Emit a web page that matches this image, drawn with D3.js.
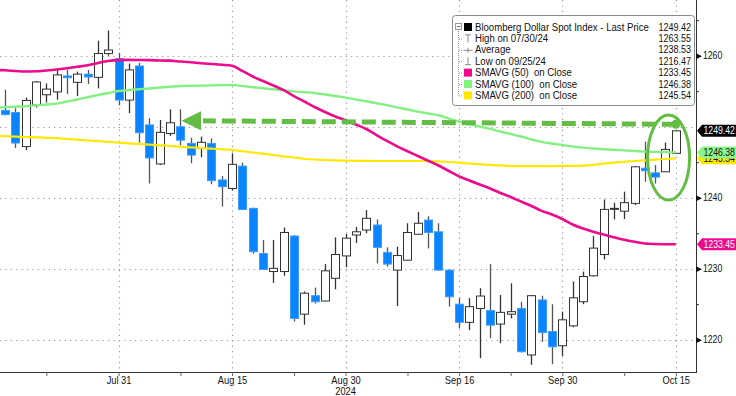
<!DOCTYPE html>
<html><head><meta charset="utf-8">
<script src="https://cdn.jsdelivr.net/npm/d3@7"></script>
<style>
body{margin:0;background:#fff}
svg{display:block}
text{font-family:"Liberation Sans",Arial,sans-serif}
</style>
</head><body>
<svg id="chart" width="736" height="396"></svg>
<script>
// ---------------- data ----------------
const dates = ["2024-07-15","2024-07-16","2024-07-17","2024-07-18","2024-07-19","2024-07-22","2024-07-23","2024-07-24","2024-07-25","2024-07-26","2024-07-29","2024-07-30","2024-07-31",
"2024-08-01","2024-08-02","2024-08-05","2024-08-06","2024-08-07","2024-08-08","2024-08-09","2024-08-12","2024-08-13","2024-08-14","2024-08-15","2024-08-16","2024-08-19","2024-08-20","2024-08-21","2024-08-22","2024-08-23","2024-08-26","2024-08-27","2024-08-28","2024-08-29","2024-08-30",
"2024-09-02","2024-09-03","2024-09-04","2024-09-05","2024-09-06","2024-09-09","2024-09-10","2024-09-11","2024-09-12","2024-09-13","2024-09-16","2024-09-17","2024-09-18","2024-09-19","2024-09-20","2024-09-23","2024-09-24","2024-09-25","2024-09-26","2024-09-27","2024-09-30",
"2024-10-01","2024-10-02","2024-10-03","2024-10-04","2024-10-07","2024-10-08","2024-10-09","2024-10-10","2024-10-11","2024-10-14","2024-10-15"];

const openP  = [null,1252.3,1252.0,1247.2,1253.05,1254.5,1254.9,1257.15,1256.25,1257.4,1256.95,1260.3,1259.6,
1253.75,1258.55,1250.25,1244.75,1249.05,1250.0,1247.65,1246.95,1247.65,1242.5,1241.3,1244.45,1238.5,1232.15,1229.6,1229.6,1234.6,1223.6,1226.2,1225.45,1228.65,1231.8,
1234.75,1235.45,1236.15,1232.3,1229.8,1231.2,1234.85,1236.85,1235.2,1229.8,1225.0,1222.45,1224.4,1224.1,1222.2,1223.6,1224.4,1217.85,1225.6,1221.15,1219.15,
1221.95,1225.35,1229.0,1232.0,1238.45,1238.1,1239.2,1244.15,1243.5,1243.65,1246.25];
const highP  = [null,1255.2,1252.6,1254.1,1256.4,1256.1,1258.0,1258.0,1257.75,1258.0,1262.1,1263.55,1260.4,
1258.9,1259.0,1251.2,1250.95,1252.45,1252.45,1248.45,1248.6,1248.35,1243.05,1246.25,1244.95,1238.6,1234.05,1234.05,1235.8,1234.75,1226.8,1227.35,1230.65,1234.4,1234.9,
1235.9,1238.25,1236.95,1233.0,1233.1,1236.4,1238.0,1237.4,1236.4,1229.9,1225.85,1225.85,1227.25,1230.65,1226.3,1227.95,1225.35,1226.3,1226.2,1225.0,1223.95,
1228.2,1229.6,1234.6,1239.75,1239.3,1240.85,1244.45,1247.9,1244.6,1247.75,1249.5];
const lowP   = [null,1251.6,1247.0,1246.7,1252.7,1253.4,1253.8,1254.6,1254.3,1256.0,1255.4,1260.0,1253.0,
1251.9,1247.75,1242.0,1244.6,1248.7,1247.4,1244.85,1245.7,1241.9,1238.75,1241.0,1238.3,1232.1,1229.85,1228.0,1229.0,1222.55,1222.1,1225.1,1225.4,1227.1,1230.2,
1233.6,1235.0,1230.75,1230.3,1224.75,1231.15,1234.8,1232.85,1229.7,1224.65,1221.6,1221.35,1217.4,1220.2,1219.5,1223.0,1218.2,1216.47,1219.7,1216.55,1217.7,
1221.75,1225.0,1228.9,1231.3,1236.95,1237.0,1238.95,1242.25,1242.0,1243.6,1246.2];
const closeP = [null,1251.7,1247.7,1253.7,1256.3,1255.3,1257.3,1256.9,1257.4,1257.0,1260.3,1260.8,1253.75,
1258.0,1249.15,1245.6,1249.2,1250.55,1248.1,1246.0,1247.8,1242.4,1241.55,1244.7,1238.35,1232.4,1229.9,1230.05,1235.1,1223.0,1226.55,1225.35,1229.7,1232.0,1234.3,
1235.2,1237.1,1233.0,1230.65,1231.85,1235.1,1236.4,1235.1,1229.8,1226.05,1222.45,1224.65,1226.15,1222.05,1223.85,1223.95,1218.3,1226.2,1221.0,1219.0,1222.8,
1225.9,1228.9,1232.9,1238.35,1238.5,1239.3,1244.35,1243.8,1242.9,1246.8,1249.42];

const sma50  = [1258.01,1257.94,1257.85,1257.77,1257.80,1257.92,1258.06,1258.24,1258.44,1258.65,1258.97,1259.25,1259.38,1259.41,1259.39,1259.37,1259.32,1259.30,1259.18,1259.07,1258.94,1258.83,1258.72,1258.59,1257.85,1257.07,1256.44,1255.80,1255.14,1254.32,1253.55,1252.77,1252.07,1251.44,1250.90,1250.31,1249.68,1248.83,1247.99,1247.24,1246.54,1245.87,1245.20,1244.54,1243.76,1243.01,1242.42,1241.86,1241.30,1240.66,1240.10,1239.46,1238.83,1238.15,1237.63,1237.00,1236.23,1235.66,1235.20,1234.82,1234.42,1234.07,1233.79,1233.55,1233.48,1233.45,1233.45];
const sma100 = [1252.66,1252.76,1252.82,1252.89,1253.01,1253.13,1253.25,1253.55,1253.83,1254.15,1254.46,1254.75,1255.03,1255.17,1255.28,1255.39,1255.52,1255.63,1255.73,1255.76,1255.79,1255.82,1255.85,1255.87,1255.73,1255.56,1255.41,1255.27,1255.13,1254.97,1254.86,1254.75,1254.54,1254.32,1254.10,1253.83,1253.58,1253.31,1253.03,1252.73,1252.42,1252.13,1251.86,1251.61,1251.15,1250.73,1250.34,1250.03,1249.70,1249.32,1248.97,1248.62,1248.20,1247.87,1247.63,1247.42,1247.20,1247.06,1246.92,1246.83,1246.75,1246.66,1246.58,1246.49,1246.45,1246.42,1246.38];
const sma200 = [1248.72,1248.66,1248.61,1248.55,1248.49,1248.44,1248.38,1248.28,1248.17,1248.06,1247.96,1247.86,1247.76,1247.66,1247.56,1247.48,1247.38,1247.28,1247.18,1247.08,1247.00,1246.90,1246.82,1246.72,1246.55,1246.37,1246.20,1246.01,1245.83,1245.66,1245.49,1245.38,1245.31,1245.25,1245.21,1245.20,1245.18,1245.17,1245.17,1245.17,1245.17,1245.17,1245.17,1245.13,1245.03,1244.93,1244.82,1244.72,1244.61,1244.54,1244.46,1244.46,1244.46,1244.46,1244.46,1244.48,1244.49,1244.52,1244.63,1244.80,1244.94,1245.06,1245.17,1245.27,1245.37,1245.45,1245.54];

const yGridTicks = [1220,1230,1240,1250,1260];
const yLabelTicks = [1220,1230,1240,1260];   // 1250 sits under the last-price tag
const yMinorTicks = [1225,1235,1245,1255,1265];
const xLabelDates = ["2024-07-31","2024-08-15","2024-08-30","2024-09-16","2024-09-30","2024-10-15"];
const xLabels = ["Jul 31","Aug 15","Aug 30","Sep 16","Sep 30","Oct 15"];
const xMinorDates = ["2024-07-22","2024-08-08","2024-08-23","2024-09-09","2024-09-23","2024-10-08"];
const yearLabel = "2024", yearLabelDate = "2024-08-30";

const legendNames = ["Bloomberg Dollar Spot Index - Last Price","High on 07/30/24","Average","Low on 09/25/24","SMAVG (50)  on Close","SMAVG (100)  on Close","SMAVG (200)  on Close"];
const legendValues = ["1249.42","1263.55","1238.53","1216.47","1233.45","1246.38","1245.54"];

// annotation (in data terms): dashed level line + arrow, ellipse around last candles
const levelFrom = {i: 66, v: 1250.34};
const levelTo   = {i: 18.1, v: 1250.85};
const ringCenter = {i: 65.3, v: 1245.66};

// ---------------- drawing ----------------
const plotR = 696, plotB = 372;
const NUM_SX = 0.87;   // horizontal condensing of the terminal-style font
const svg = d3.select("#chart");
const x = d3.scaleLinear().domain([0, dates.length - 1]).range([-5.3, 675.8]);
const y = d3.scaleLinear().domain([1220, 1260]).range([339.7, 55.7]);
const idx = d => dates.indexOf(d);

const cUp = "#ffffff", cDown = "#0a84ff", cMag = "#ec0b8c", cGreen = "#84f084", cYel = "#ffe800", cAnn = "#63bd45";

function stext(g, tx, ty, sx, str, opts) {
  const t = g.append("text").attr("transform", `translate(${tx},${ty}) scale(${sx},1)`)
    .attr("dy","0.36em").attr("font-size", opts.size || 10).attr("fill", opts.fill || "#111")
    .attr("text-anchor", opts.anchor || "start").text(str);
  if (opts.pre) t.attr("xml:space","preserve").style("white-space","pre");
  return t;
}

svg.append("defs").append("clipPath").attr("id","plotclip")
  .append("rect").attr("x",0).attr("y",0).attr("width",plotR).attr("height",plotB);

// grid
const grid = svg.append("g").attr("stroke","#9a9a9a").attr("stroke-width",1.2).attr("stroke-dasharray","1.2,4.2");
grid.selectAll("line.h").data(yGridTicks).join("line").attr("class","h")
  .attr("x1",0).attr("x2",plotR).attr("y1",d=>Math.round(y(d))+0.5).attr("y2",d=>Math.round(y(d))+0.5);
grid.selectAll("line.v").data(xLabelDates).join("line").attr("class","v")
  .attr("x1",d=>Math.round(x(idx(d)))+0.5).attr("x2",d=>Math.round(x(idx(d)))+0.5).attr("y1",0).attr("y2",plotB);

// candles
const plot = svg.append("g").attr("clip-path","url(#plotclip)");
const candles = dates.map((d,i)=>({i, o:openP[i], h:highP[i], l:lowP[i], c:closeP[i]})).filter(d=>d.o!=null);
const cg = plot.append("g");
cg.selectAll("line.w").data(candles).join("line").attr("class","w")
  .attr("x1",d=>Math.round(x(d.i))+0.5).attr("x2",d=>Math.round(x(d.i))+0.5)
  .attr("y1",d=>y(d.h)).attr("y2",d=>y(d.l))
  .attr("stroke",d=>d.c>=d.o?"#333":"#555").attr("stroke-width",1.3);
cg.selectAll("rect.b").data(candles).join("rect").attr("class","b")
  .attr("x",d=>Math.round(x(d.i))-3.5).attr("width",8)
  .attr("y",d=>y(Math.max(d.o,d.c)))
  .attr("height",d=>Math.max(1,Math.abs(y(d.o)-y(d.c))))
  .attr("fill",d=>d.c>=d.o?cUp:cDown)
  .attr("stroke",d=>d.c>=d.o?"#333":"#3d9dff").attr("stroke-width",1);

// moving averages
const line = d3.line().x((d,i)=>x(i)).y(d=>y(d)).curve(d3.curveMonotoneX);
plot.append("path").datum(sma200).attr("d",line).attr("fill","none").attr("stroke",cYel).attr("stroke-width",2.2);
plot.append("path").datum(sma100).attr("d",line).attr("fill","none").attr("stroke",cGreen).attr("stroke-width",2.4);
plot.append("path").datum(sma50).attr("d",line).attr("fill","none").attr("stroke",cMag).attr("stroke-width",2.6);

// annotations
const ax0 = x(levelFrom.i), ay0 = y(levelFrom.v), tipX = x(levelTo.i), tipY = y(levelTo.v);
const baseX = tipX + 19.5;
const slope = (ay0 - tipY)/(ax0 - tipX);
svg.append("line").attr("x1",ax0).attr("y1",ay0).attr("x2",baseX+2).attr("y2",tipY + slope*(baseX+2-tipX))
  .attr("stroke",cAnn).attr("stroke-width",5).attr("stroke-dasharray","14,6");
svg.append("circle").attr("cx",ax0).attr("cy",ay0).attr("r",4.5).attr("fill",cAnn);
svg.append("path").attr("d",`M${tipX},${tipY}L${baseX},${tipY-9.5}L${baseX},${tipY+9.5}Z`).attr("fill",cAnn);
svg.append("ellipse").attr("cx",x(ringCenter.i)).attr("cy",y(ringCenter.v)).attr("rx",21).attr("ry",42.5)
  .attr("fill","none").attr("stroke",cAnn).attr("stroke-width",3);

// axes frame
svg.append("line").attr("x1",plotR+0.5).attr("x2",plotR+0.5).attr("y1",0).attr("y2",plotB+1).attr("stroke","#333").attr("stroke-width",1);
svg.append("line").attr("x1",0).attr("x2",plotR+1).attr("y1",plotB+0.5).attr("y2",plotB+0.5).attr("stroke","#333").attr("stroke-width",1);

// bottom axis
const xAxis = d3.axisBottom(x).tickValues(xLabelDates.map(idx)).tickFormat((d,i)=>xLabels[i]).tickSize(4).tickPadding(1);
const gx = svg.append("g").attr("transform",`translate(0,${plotB})`).call(xAxis);
gx.select(".domain").remove();
gx.selectAll("line").attr("stroke","#666");
gx.selectAll("text").attr("font-size",10).attr("fill","#111").attr("transform","scale(0.93,1)").attr("x",0);
const xMinor = d3.axisBottom(x).tickValues(xMinorDates.map(idx)).tickFormat("").tickSize(4);
const gxm = svg.append("g").attr("transform",`translate(0,${plotB})`).call(xMinor);
gxm.select(".domain").remove();
gxm.selectAll("line").attr("stroke","#666");
const yr = svg.append("g");
stext(yr, x(idx(yearLabelDate)), 391.5, 0.93, yearLabel, {anchor:"middle"});

// right axis
const yAxis = d3.axisRight(y).tickValues(yLabelTicks).tickFormat(d3.format("d")).tickSize(0).tickPadding(8);
const gy = svg.append("g").attr("transform",`translate(${plotR},0)`).call(yAxis);
gy.select(".domain").remove();
gy.selectAll("text").attr("font-size",10).attr("fill","#111").attr("transform",`scale(${NUM_SX},1)`);
gy.selectAll(".tick").append("path").attr("d","M0,-3L6,0L0,3Z").attr("fill","#111");
const yMinor = d3.axisRight(y).tickValues(yMinorTicks).tickFormat("").tickSize(3);
const gym = svg.append("g").attr("transform",`translate(${plotR},0)`).call(yMinor);
gym.select(".domain").remove();
gym.selectAll("line").attr("stroke","#333");

// last-value labels
const lastVals = [
  {v: sma200[sma200.length-1], bg: cYel, fg: "#111"},
  {v: sma100[sma100.length-1], bg: "#8cf58c", fg: "#111"},
  {v: sma50[sma50.length-1], bg: cMag, fg: "#fff"},
  {v: closeP[closeP.length-1], bg: "#000", fg: "#fff"}
];
const lg = svg.append("g");
lastVals.forEach(d=>{
  const cy = y(d.v);
  lg.append("path").attr("d",`M${plotR+1},${cy}L${plotR+6},${cy-6}L736,${cy-6}L736,${cy+6}L${plotR+6},${cy+6}Z`).attr("fill",d.bg);
  stext(lg, 703.5, cy, NUM_SX, d.v.toFixed(2), {fill:d.fg});
});

// legend
const leg = svg.append("g");
leg.append("rect").attr("x",452.5).attr("y",15.5).attr("width",242).attr("height",90).attr("rx",3)
  .attr("fill","#fff").attr("stroke","#8a8a8a").attr("stroke-width",1);
const rowY = i => 27 + i*11.4;
leg.append("line").attr("x1",458.5).attr("x2",458.5).attr("y1",31).attr("y2",rowY(6)).attr("stroke","#999").attr("stroke-dasharray","1,1");
for (let i=1;i<7;i++) leg.append("line").attr("x1",459).attr("x2",463).attr("y1",rowY(i)+0.5).attr("y2",rowY(i)+0.5).attr("stroke","#999").attr("stroke-dasharray","1,1");
leg.append("rect").attr("x",455.5).attr("y",rowY(0)-3.5).attr("width",6).attr("height",6).attr("fill","#fff").attr("stroke","#999");
leg.append("line").attr("x1",457).attr("x2",460.5).attr("y1",rowY(0)-0.5).attr("y2",rowY(0)-0.5).attr("stroke","#777");
const swatch = ["#000",null,null,null,cMag,"#80f280",cYel];
swatch.forEach((c,i)=>{ if(c) leg.append("rect").attr("x",464).attr("y",rowY(i)-4).attr("width",8).attr("height",8).attr("fill",c); });
const gcol = "#888";
leg.append("path").attr("d",`M465,${rowY(1)-3.5}H471M468,${rowY(1)-3.5}V${rowY(1)+4}`).attr("stroke",gcol).attr("fill","none");
leg.append("path").attr("d",`M463.5,${rowY(2)+0.5}H472.5M468,${rowY(2)-2}V${rowY(2)+3}`).attr("stroke",gcol).attr("fill","none");
leg.append("path").attr("d",`M465,${rowY(3)+3.5}H471M468,${rowY(3)+3.5}V${rowY(3)-4}`).attr("stroke",gcol).attr("fill","none");
legendNames.forEach((t,i)=>{
  stext(leg, 475, rowY(i), 0.96, t, {pre:true});
  stext(leg, 691, rowY(i), 0.9, legendValues[i], {anchor:"end"});
});
</script>
</body></html>
